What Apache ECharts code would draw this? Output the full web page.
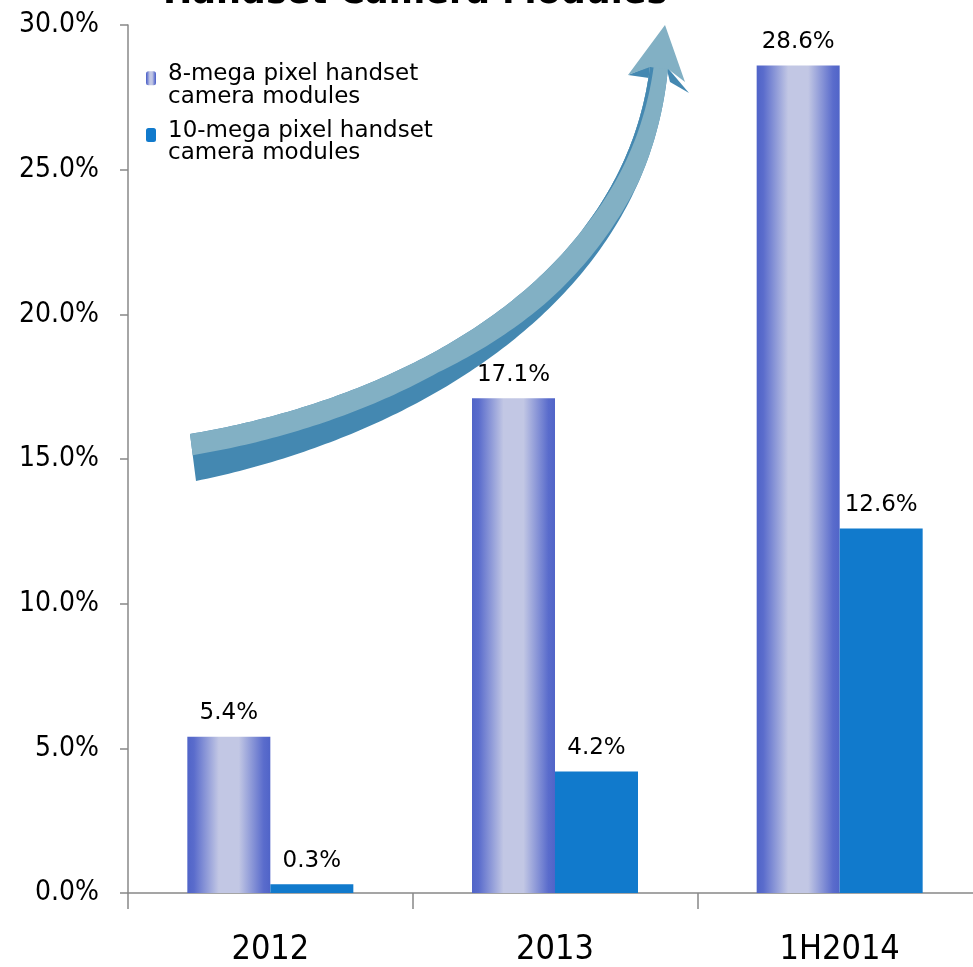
<!DOCTYPE html>
<html>
<head>
<meta charset="utf-8">
<script src="https://cdn.jsdelivr.net/npm/echarts@6/dist/echarts.min.js"></script>
<style>
  html, body { margin: 0; padding: 0; background: #fff; overflow: hidden; }
  /* plot runs past the right edge of the window, as in the original slide */
  #main { width: 982px; height: 967px; }
</style>
</head>
<body>
<div id="main"></div>
<script>
// data
var categories = ['2012', '2013', '1H2014']
var seriesNames = ['8-mega pixel handset camera modules', '10-mega pixel handset camera modules']
var legendLines = {
  '8-mega pixel handset camera modules': ['8-mega pixel handset', 'camera modules'],
  '10-mega pixel handset camera modules': ['10-mega pixel handset', 'camera modules']
}
var mp8 = [5.4, 17.1, 28.6]
var mp10 = [0.3, 4.2, 12.6]
var yTicks = [0, 5, 10, 15, 20, 25, 30]

var COND = "'DejaVu Sans Condensed', 'Liberation Sans Narrow', sans-serif"
var SANS = "'DejaVu Sans', sans-serif"

var myChart = echarts.init(document.getElementById('main'))

// gradient for the 8MP bars (dark edges, light middle)
var barGrad = {
  type: 'linear', x: 0, y: 0, x2: 1, y2: 0,
  colorStops: [
    { offset: 0, color: '#5064c8' },
    { offset: 0.08, color: '#5a6ccc' },
    { offset: 0.38, color: '#c2c7e4' },
    { offset: 0.62, color: '#c2c7e4' },
    { offset: 0.92, color: '#5a6ccc' },
    { offset: 1, color: '#5064c8' }
  ]
}

var labelStyle = {
  show: true,
  position: 'top',
  distance: 12,
  fontFamily: SANS,
  fontSize: 23,
  color: '#000',
  formatter: function (p) { return p.value.toFixed(1) + '%' }
}

// ---- decorative arrow (not data) ----
// least squares cubic bezier through traced edge points, ends fixed
function fitCubic(pts) {
  var d = [0]
  for (var i = 1; i < pts.length; i++) d.push(d[i - 1] + Math.hypot(pts[i][0] - pts[i - 1][0], pts[i][1] - pts[i - 1][1]))
  var P0 = pts[0], P3 = pts[pts.length - 1]
  var a11 = 0, a12 = 0, a22 = 0, r1 = [0, 0], r2 = [0, 0]
  for (var i = 0; i < pts.length; i++) {
    var t = d[i] / d[d.length - 1], u = 1 - t
    var b0 = u * u * u, b1 = 3 * u * u * t, b2 = 3 * u * t * t, b3 = t * t * t
    a11 += b1 * b1; a12 += b1 * b2; a22 += b2 * b2
    for (var k = 0; k < 2; k++) {
      var r = pts[i][k] - b0 * P0[k] - b3 * P3[k]
      r1[k] += b1 * r; r2[k] += b2 * r
    }
  }
  var det = a11 * a22 - a12 * a12
  var P1 = [0, 1].map(function (k) { return (a22 * r1[k] - a12 * r2[k]) / det })
  var P2 = [0, 1].map(function (k) { return (a11 * r2[k] - a12 * r1[k]) / det })
  return [P0, P1, P2, P3]
}
function sampleCubic(c, n) {
  var out = []
  for (var i = 0; i <= n; i++) {
    var t = i / n, u = 1 - t
    out.push([0, 1].map(function (k) {
      return u * u * u * c[0][k] + 3 * u * u * t * c[1][k] + 3 * u * t * t * c[2][k] + t * t * t * c[3][k]
    }))
  }
  return out
}
function resample(pts, n) {
  var d = [0]
  for (var i = 1; i < pts.length; i++) d.push(d[i - 1] + Math.hypot(pts[i][0] - pts[i - 1][0], pts[i][1] - pts[i - 1][1]))
  var total = d[d.length - 1], out = [], j = 0
  for (var k = 0; k <= n; k++) {
    var target = total * k / n
    while (j < pts.length - 2 && d[j + 1] < target) j++
    var f = (target - d[j]) / ((d[j + 1] - d[j]) || 1)
    out.push([pts[j][0] + (pts[j + 1][0] - pts[j][0]) * f, pts[j][1] + (pts[j + 1][1] - pts[j][1]) * f])
  }
  return out
}
function lerp(a, b, f) { return [a[0] + (b[0] - a[0]) * f, a[1] + (b[1] - a[1]) * f] }
function pw(stops, t) {
  for (var i = 1; i < stops.length; i++) {
    if (t <= stops[i][0]) {
      var f = (t - stops[i - 1][0]) / (stops[i][0] - stops[i - 1][0])
      return stops[i - 1][1] + (stops[i][1] - stops[i - 1][1]) * f
    }
  }
  return stops[stops.length - 1][1]
}

var N = 120
var innerTrace = [[190, 434], [247, 422], [313, 403], [380, 378], [440, 350], [480, 323], [530, 287], [580, 233], [613, 187], [633, 137], [643, 93], [650, 67]]
var outerTrace = [[196, 481], [280, 457], [347, 433], [413, 405], [480, 368], [547, 313], [580, 277], [613, 227], [640, 177], [657, 127], [665, 87], [668, 68]]
var inner = resample(sampleCubic(fitCubic(innerTrace), 200), N)
var outer = resample(sampleCubic(fitCubic(outerTrace), 200), N)
var bandStops = [[0, 0.45], [0.4, 0.55], [0.6, 0.8], [0.75, 0.92], [0.83, 1]]
var sliverStops = [[0, 0], [0.72, 0], [1, 0.2]]
var mid = [], sliver = []
for (var i = 0; i <= N; i++) {
  mid.push(lerp(inner[i], outer[i], pw(bandStops, i / N)))
  sliver.push(lerp(inner[i], outer[i], pw(sliverStops, i / N)))
}
var darkBody = outer.concat(inner.slice().reverse())
var lightBody = inner.concat(mid.slice().reverse())
var darkSliver = inner.concat(sliver.slice().reverse())

var option = {
  backgroundColor: '#fff',
  animation: false,
  title: {
    text: 'Handset Camera Modules',
    left: 158,
    top: -29,
    textStyle: { fontFamily: SANS, fontWeight: 'bold', fontSize: 35, color: '#000' }
  },
  legend: {
    orient: 'vertical',
    left: 141,
    top: 43.5,
    itemWidth: 10,
    itemHeight: 14,
    itemGap: -3,
    textStyle: {
      fontFamily: SANS, fontSize: 14, lineHeight: 14.5, color: '#000',
      rich: { t: { fontFamily: SANS, fontSize: 23, lineHeight: 22.5, color: '#000', padding: [0, 0, 0, 7] } }
    },
    formatter: function (name) {
      var ls = legendLines[name]
      return '\n{t|' + ls[0] + '}\n{t|' + ls[1] + '}'
    },
    data: seriesNames
  },
  grid: { left: 128, top: 25, right: 0, bottom: 74, containLabel: false },
  xAxis: {
    type: 'category',
    data: categories,
    axisLine: { lineStyle: { color: '#888', width: 1.5 } },
    axisTick: { show: true, length: 16, lineStyle: { color: '#888', width: 1.5 } },
    axisLabel: { fontFamily: COND, fontSize: 34, color: '#000', margin: 40 }
  },
  yAxis: {
    type: 'value',
    min: yTicks[0],
    max: yTicks[yTicks.length - 1],
    interval: 5,
    splitLine: { show: false },
    axisLine: { show: true, lineStyle: { color: '#888', width: 1.5 } },
    axisTick: { show: true, length: 8, lineStyle: { color: '#888', width: 1.5 } },
    axisLabel: {
      fontFamily: COND, fontSize: 28, color: '#000', margin: 29,
      formatter: function (v) { return v.toFixed(1) + '%' }
    }
  },
  series: [
    {
      name: seriesNames[0],
      type: 'bar',
      barWidth: 83,
      barGap: '0%',
      data: mp8,
      itemStyle: { color: barGrad },
      label: labelStyle
    },
    {
      name: seriesNames[1],
      type: 'bar',
      barWidth: 83,
      barGap: '0%',
      data: mp10,
      itemStyle: { color: '#117acc' },
      label: labelStyle
    }
  ],
  // decorative growth arrow
  graphic: [
    { type: 'polygon', z: 5, shape: { points: darkBody }, style: { fill: '#4488b1' } },
    { type: 'polygon', z: 6, shape: { points: lightBody }, style: { fill: '#82b0c4' } },
    { type: 'polygon', z: 7, shape: { points: darkSliver }, style: { fill: '#4488b1' } },
    { type: 'polygon', z: 5, shape: { points: [[628, 75], [650, 66], [649, 78]] }, style: { fill: '#4488b1' } },
    { type: 'polygon', z: 5, shape: { points: [[666, 66], [689, 93], [670, 82]] }, style: { fill: '#4488b1' } },
    { type: 'polygon', z: 8, shape: { points: [[628, 75], [665, 25], [685, 82], [668, 69], [650, 67]] }, style: { fill: '#82b0c4' } }
  ]
}

myChart.setOption(option)
</script>
</body>
</html>
